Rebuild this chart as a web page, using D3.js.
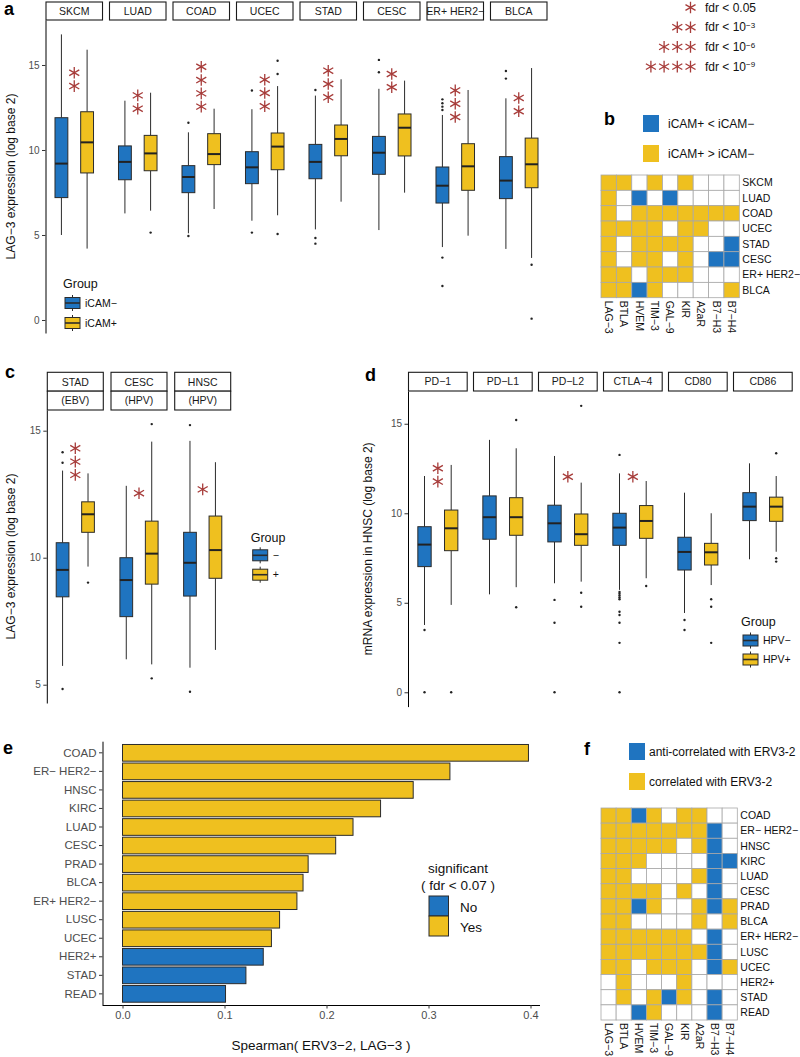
<!DOCTYPE html>
<html><head><meta charset="utf-8">
<script src="https://cdn.jsdelivr.net/npm/d3@7"></script>
<style>
body{margin:0;background:#fff}
text{font-family:"Liberation Sans",Arial,Helvetica,sans-serif}
</style>
</head><body>
<svg id="chart" width="800" height="1057"></svg>
<script>
// ---------------- DATA ----------------
// Panel a: LAG-3 expression by iCAM group. stats = [lowWhisker, q1, median, q3, highWhisker]
const aFacets = ["SKCM","LUAD","COAD","UCEC","STAD","CESC","ER+ HER2−","BLCA"];
const aGroups = ["iCAM−","iCAM+"];
const aNegStats = [[5.0,7.2,9.2,11.9,16.8],[6.27,8.25,9.3,10.24,12.9],[5.1,7.49,8.41,9.08,11.04],[5.84,8.02,8.98,9.9,12.4],
  [5.33,8.31,9.3,10.33,13.2],[5.29,8.57,9.84,10.8,13.6],[4.29,6.88,7.9,9.0,12.06],[4.18,7.14,8.2,9.61,13.04]];
const aPosStats = [[4.2,8.65,10.45,12.25,15.9],[6.43,8.78,9.8,10.86,13.37],[6.53,9.14,9.76,10.96,12.43],[6.16,8.84,10.2,11.0,13.76],
  [6.96,9.66,10.65,11.47,14.16],[7.49,9.65,11.31,12.12,14.08],[4.96,7.63,9.04,10.37,13.53],[3.65,7.78,9.16,10.7,14.82]];
const aNegOut = [[],[],[11.6,4.94],[13.5,5.14],[13.53,4.82,4.49],[14.57,15.3],[12.35,12.55,12.75,12.98,3.67,2.0],[14.65,14.2]];
const aPosOut = [[],[5.14],[],[14.47,15.25,5.06],[],[],[],[3.25,0.08]];
const aStars = [2,2,4,3,3,2,3,2];
const aStarBase = [13.76,12.43,12.55,12.57,13.1,13.69,11.94,12.28];
const aTicks = [0,5,10,15];

// Significance legend
const sigStars = [1,2,3,4];
const sigBase = ["fdr < 0.05","fdr < 10","fdr < 10","fdr < 10"];
const sigExp = ["","−3","−6","−9"];

// Panel b: 1 = iCAM+ > iCAM−, -1 = iCAM+ < iCAM−, 0 = n.s.
const bRows = ["SKCM","LUAD","COAD","UCEC","STAD","CESC","ER+ HER2−","BLCA"];
const bCols = ["LAG−3","BTLA","HVEM","TIM−3","GAL−9","KIR","A2aR","B7−H3","B7−H4"];
const bMatrix = [
  [1,1,0,1,0,1,0,0,0],
  [1,0,-1,0,-1,0,0,0,0],
  [1,0,1,1,1,1,1,1,1],
  [1,1,1,1,0,1,1,0,0],
  [1,0,1,1,1,1,0,0,-1],
  [1,0,1,1,0,1,0,-1,-1],
  [1,1,0,1,1,1,0,0,0],
  [1,1,-1,1,0,0,0,0,1]];
const bLegend = ["iCAM+ < iCAM−","iCAM+ > iCAM−"];

// Panel c
const cFacets = ["STAD","CESC","HNSC"];
const cSub = ["(EBV)","(HPV)","(HPV)"];
const cGroups = ["−","+"];
const cNegStats = [[5.74,8.46,9.52,10.59,13.43],[6.0,7.68,9.12,10.0,12.83],[5.67,8.49,9.8,11.0,14.6]];
const cPosStats = [[9.65,11.0,11.71,12.2,13.32],[5.8,8.96,10.16,11.44,14.57],[6.37,9.19,10.3,11.64,13.76]];
const cNegOut = [[14.15,13.74,4.83],[],[15.22,4.72]];
const cPosOut = [[9.02],[15.26,5.25],[]];
const cStars = [3,1,1];
const cStarBase = [13.26,12.54,12.69];
const cTicks = [5,10,15];

// Panel d
const dFacets = ["PD−1","PD−L1","PD−L2","CTLA−4","CD80","CD86"];
const dGroups = ["HPV−","HPV+"];
const dNegStats = [[3.76,7.02,8.25,9.25,12.08],[5.47,8.55,9.78,10.97,14.1],[6.09,8.4,9.44,10.45,13.2],
  [5.72,8.21,9.2,10.0,12.23],[4.43,6.83,7.84,8.66,11.15],[7.43,9.59,10.37,11.15,12.79]];
const dPosStats = [[4.88,7.91,9.16,10.18,12.7],[5.87,8.77,9.78,10.87,13.63],[6.18,8.21,8.83,9.96,11.71],
  [6.37,8.6,9.57,10.43,11.8],[5.99,7.11,7.82,8.32,10.0],[7.85,9.55,10.37,10.9,12.08]];
const dNegOut = [[3.48,0],[],[5.16,3.88,0],[13.26,5.6,5.5,5.4,5.3,5.2,4.5,4.32,3.88,2.76,0],[4.04,3.48],[]];
const dPosOut = [[0],[15.21,4.75],[16.0,5.56,4.78],[5.94],[5.2,4.78,2.76],[13.35,7.49,7.3]];
const dStars = [2,0,1,1,0,0];
const dStarBase = [11.77,0,12.04,12.04,0,0];
const dTicks = [0,5,10,15];

// Panel e
const eCats = ["COAD","ER− HER2−","HNSC","KIRC","LUAD","CESC","PRAD","BLCA","ER+ HER2−","LUSC","UCEC","HER2+","STAD","READ"];
const eVals = [0.398,0.321,0.285,0.253,0.226,0.209,0.182,0.177,0.171,0.154,0.146,0.138,0.121,0.101];
const eSig = ["Yes","Yes","Yes","Yes","Yes","Yes","Yes","Yes","Yes","Yes","Yes","No","No","No"];
const eTicks = [0,0.1,0.2,0.3,0.4];
const eLegend = ["No","Yes"];

// Panel f: 1 = correlated, -1 = anti-correlated, 0 = n.s.
const fRows = ["COAD","ER− HER2−","HNSC","KIRC","LUAD","CESC","PRAD","BLCA","ER+ HER2−","LUSC","UCEC","HER2+","STAD","READ"];
const fCols = ["LAG−3","BTLA","HVEM","TIM−3","GAL−9","KIR","A2aR","B7−H3","B7−H4"];
const fMatrix = [
  [1,1,-1,1,0,1,1,0,0],
  [1,1,1,1,1,1,1,-1,0],
  [1,1,1,1,1,0,1,-1,0],
  [1,1,1,0,0,0,0,-1,-1],
  [1,1,0,0,0,0,1,-1,0],
  [1,1,1,1,0,1,0,-1,0],
  [1,1,-1,1,0,0,1,-1,1],
  [1,1,0,0,0,0,1,0,1],
  [1,1,1,1,1,1,0,-1,0],
  [1,1,1,1,1,1,1,-1,0],
  [1,1,0,1,1,1,0,-1,1],
  [0,1,0,0,0,1,0,0,0],
  [0,1,0,1,-1,1,0,-1,0],
  [0,0,-1,1,0,0,0,-1,0]];
const fLegend = ["anti-correlated with ERV3-2","correlated with ERV3-2"];

// ---------------- STYLE ----------------
const BLUE = "#1f74c0", YEL = "#efc01f", STARC = "#a73c3a", EDGE = "#2b2b2b", TXT = "#4d4d4d";
const svg = d3.select("#chart");
const colorOf = v => v === 1 ? YEL : (v === -1 ? BLUE : "#ffffff");

function drawStar(g, cx, cy, r) {
  const c = Math.cos(Math.PI/6)*r, s = Math.sin(Math.PI/6)*r;
  g.append("path")
    .attr("d", `M${cx},${cy-r}L${cx},${cy+r}M${cx-c},${cy-s}L${cx+c},${cy+s}M${cx-c},${cy+s}L${cx+c},${cy-s}`)
    .attr("stroke", STARC).attr("stroke-width", 1.3).attr("fill", "none");
}

function boxKey(g, x, yc, col) {
  g.append("line").attr("x1", x+7.5).attr("x2", x+7.5).attr("y1", yc-8).attr("y2", yc+8)
    .attr("stroke", EDGE).attr("stroke-width", 1);
  g.append("rect").attr("x", x).attr("y", yc-5.5).attr("width", 15).attr("height", 11)
    .attr("fill", col).attr("stroke", EDGE).attr("stroke-width", 1);
  g.append("line").attr("x1", x).attr("x2", x+15).attr("y1", yc).attr("y2", yc)
    .attr("stroke", EDGE).attr("stroke-width", 1.6);
}

function styleAxis(ax) {
  ax.attr("font-family", null).attr("font-size", null);
  ax.select(".domain").attr("stroke", "#000").attr("stroke-width", 1);
  ax.selectAll(".tick line").attr("stroke", "#333");
  ax.selectAll(".tick text").attr("fill", TXT).style("font-size", "10px");
}

function boxPanel(o) {
  const g = svg.append("g");
  const y = d3.scaleLinear().domain(o.ydom).range([o.bottom, o.top]);
  const fx = d3.scaleBand().domain(o.facets).range([o.x0, o.x1]).paddingInner(o.pad);
  const gx = d3.scalePoint().domain(o.groups).range([0, fx.bandwidth()]).padding(0.6);
  const bw = gx.step() * 0.5;
  o.facets.forEach((f, i) => {
    const fxp = fx(f);
    const rows = o.sub ? [f, o.sub[i]] : [f];
    rows.forEach((t, k) => {
      g.append("rect").attr("x", fxp).attr("y", o.stripTop + k*o.stripH)
        .attr("width", fx.bandwidth()).attr("height", o.stripH)
        .attr("fill", "#fff").attr("stroke", "#1a1a1a").attr("stroke-width", 1.1);
      g.append("text").attr("x", fxp + fx.bandwidth()/2).attr("y", o.stripTop + k*o.stripH + o.stripH/2)
        .attr("dy", "0.36em").attr("text-anchor", "middle").attr("font-size", 10.5).attr("fill", "#1a1a1a").text(t);
    });
    const sets = [[o.neg[i], o.negOut[i], BLUE, o.groups[0]], [o.pos[i], o.posOut[i], YEL, o.groups[1]]];
    sets.forEach(([s, outs, col, grp]) => {
      const cx = fxp + gx(grp);
      g.append("line").attr("x1", cx).attr("x2", cx).attr("y1", y(s[0])).attr("y2", y(s[1]))
        .attr("stroke", EDGE).attr("stroke-width", 1);
      g.append("line").attr("x1", cx).attr("x2", cx).attr("y1", y(s[3])).attr("y2", y(s[4]))
        .attr("stroke", EDGE).attr("stroke-width", 1);
      g.append("rect").attr("x", cx - bw/2).attr("y", y(s[3])).attr("width", bw).attr("height", y(s[1]) - y(s[3]))
        .attr("fill", col).attr("stroke", EDGE).attr("stroke-width", 1);
      g.append("line").attr("x1", cx - bw/2).attr("x2", cx + bw/2).attr("y1", y(s[2])).attr("y2", y(s[2]))
        .attr("stroke", "#222").attr("stroke-width", 2);
      outs.forEach(v => g.append("circle").attr("cx", cx).attr("cy", y(v)).attr("r", 1.2).attr("fill", "#222"));
    });
    for (let k = 0; k < o.stars[i]; k++) drawStar(g, fxp + fx.bandwidth()/2, y(o.starBase[i]) - k*13.3, 5.8);
  });
  const ax = g.append("g").attr("transform", `translate(${o.x0 - 0.5},0)`)
    .call(d3.axisLeft(y).tickValues(o.ticks).tickSize(3.5).tickSizeOuter(0).tickPadding(2.5));
  styleAxis(ax);
  g.append("text").attr("transform", `translate(${o.titleX},${(o.top + o.bottom)/2}) rotate(-90)`)
    .attr("text-anchor", "middle").attr("dy", "0.35em").attr("font-size", 12).attr("fill", "#111").text(o.title);
  // legend
  const lg = g.append("g");
  lg.append("text").attr("x", o.legX).attr("y", o.legY).attr("dy", "0.35em").attr("font-size", 12.5).attr("fill", "#111").text("Group");
  o.groups.forEach((grp, k) => {
    const yc = o.legY + o.legFirst + k*o.legStep;
    boxKey(lg, o.legX + 2, yc, k === 0 ? BLUE : YEL);
    lg.append("text").attr("x", o.legX + 22).attr("y", yc).attr("dy", "0.35em").attr("font-size", 10.5).attr("fill", "#111").text(grp);
  });
}

function heatmap(o) {
  const g = svg.append("g");
  const x = d3.scaleBand().domain(o.cols).range([o.x0, o.x1]);
  const y = d3.scaleBand().domain(o.rows).range([o.y0, o.y1]);
  o.rows.forEach((r, i) => o.cols.forEach((c, j) => {
    g.append("rect").attr("x", x(c)).attr("y", y(r)).attr("width", x.bandwidth()).attr("height", y.bandwidth())
      .attr("fill", colorOf(o.mat[i][j])).attr("stroke", "#a8a8a8").attr("stroke-width", 0.8);
  }));
  o.rows.forEach(r => g.append("text").attr("x", o.x1 + 3).attr("y", y(r) + y.bandwidth()/2).attr("dy", "0.35em")
    .attr("font-size", 10.5).attr("fill", "#111").text(r));
  o.cols.forEach(c => g.append("text")
    .attr("transform", `translate(${x(c) + x.bandwidth()/2},${o.y1 + 3}) rotate(90)`)
    .attr("dy", "0.35em").attr("font-size", 10.5).attr("fill", "#111").text(c));
  o.legend.forEach((t, k) => {
    const yk = o.legY + k*o.legStep;
    g.append("rect").attr("x", o.legX).attr("y", yk).attr("width", 16).attr("height", 17).attr("fill", k === 0 ? BLUE : YEL);
    g.append("text").attr("x", o.legX + o.legGap).attr("y", yk + 8.5).attr("dy", "0.35em").attr("font-size", 12).attr("fill", "#111").text(t);
  });
}

function panelLabel(t, x, y) {
  svg.append("text").attr("x", x).attr("y", y).attr("font-size", 18).attr("font-weight", "bold").attr("fill", "#000").text(t);
}

// ---------------- PANEL a ----------------
boxPanel({facets: aFacets, groups: aGroups, neg: aNegStats, pos: aPosStats, negOut: aNegOut, posOut: aPosOut,
  stars: aStars, starBase: aStarBase, x0: 46, x1: 547, pad: 0.11, top: 20, bottom: 333, ydom: [-0.765, 17.647],
  ticks: aTicks, stripTop: 2, stripH: 18, titleX: 10.5, title: "LAG−3 expression (log base 2)",
  legX: 63, legY: 284, legFirst: 19, legStep: 20});
panelLabel("a", 4, 15);

// significance legend
const sg = svg.append("g");
sigStars.forEach((n, k) => {
  const yc = 7.5 + k*19.7;
  for (let s = 0; s < n; s++) drawStar(sg, 690.5 - s*13.2, yc, 5.8);
  const t = sg.append("text").attr("x", 705).attr("y", yc).attr("dy", "0.35em").attr("font-size", 12).attr("fill", "#111").text(sigBase[k]);
  if (sigExp[k]) t.append("tspan").attr("dy", "-0.45em").attr("font-size", 8).text(sigExp[k]);
});

// ---------------- PANEL b ----------------
heatmap({rows: bRows, cols: bCols, mat: bMatrix, x0: 601, x1: 739.3, y0: 175, y1: 297.7,
  legend: bLegend, legX: 643, legY: 115, legStep: 30, legGap: 25});
panelLabel("b", 604, 125);

// ---------------- PANEL c ----------------
boxPanel({facets: cFacets, sub: cSub, groups: cGroups, neg: cNegStats, pos: cPosStats, negOut: cNegOut, posOut: cPosOut,
  stars: cStars, starBase: cStarBase, x0: 47.3, x1: 230.7, pad: 0.121, top: 410, bottom: 703, ydom: [4.28, 15.815],
  ticks: cTicks, stripTop: 372.3, stripH: 18.85, titleX: 10.5, title: "LAG−3 expression (log base 2)",
  legX: 250.7, legY: 537.7, legFirst: 17.6, legStep: 19.4});
panelLabel("c", 5, 378);

// ---------------- PANEL d ----------------
boxPanel({facets: dFacets, groups: dGroups, neg: dNegStats, pos: dPosStats, negOut: dNegOut, posOut: dPosOut,
  stars: dStars, starBase: dStarBase, x0: 408.5, x1: 792.2, pad: 0.097, top: 391, bottom: 706.6, ydom: [-0.8, 16.83],
  ticks: dTicks, stripTop: 372.3, stripH: 18.7, titleX: 368, title: "mRNA expression in HNSC (log base 2)",
  legX: 741, legY: 621.7, legFirst: 18.8, legStep: 19});
panelLabel("d", 365, 381);

// ---------------- PANEL e ----------------
(function(){
  const g = svg.append("g");
  const x = d3.scaleLinear().domain([0, 0.4]).range([122.5, 530.5]);
  const y = d3.scaleBand().domain(eCats).range([741.7, 1005]).paddingInner(0.1).paddingOuter(0.15);
  eCats.forEach((c, i) => {
    g.append("rect").attr("x", x(0)).attr("y", y(c)).attr("width", x(eVals[i]) - x(0)).attr("height", y.bandwidth())
      .attr("fill", eSig[i] === "Yes" ? YEL : BLUE).attr("stroke", EDGE).attr("stroke-width", 1);
  });
  const ay = g.append("g").attr("transform", "translate(102.5,0)")
    .call(d3.axisLeft(y).tickSize(3.5).tickSizeOuter(0).tickPadding(2.5));
  styleAxis(ay);
  ay.selectAll(".tick text").style("font-size", "11.5px");
  ay.select(".domain").attr("d", "M0.5,741.7V1005");
  const ax = g.append("g").attr("transform", "translate(0,1005)")
    .call(d3.axisBottom(x).tickValues(eTicks).tickFormat(d3.format(".1f")).tickSize(3.5).tickSizeOuter(0).tickPadding(2.5));
  styleAxis(ax);
  ax.selectAll(".tick text").style("font-size", "11px");
  ax.select(".domain").attr("d", "M102.5,0.5H540");
  g.append("text").attr("x", 321).attr("y", 1045).attr("dy", "0.35em").attr("text-anchor", "middle")
    .attr("font-size", 13.5).attr("fill", "#111").text("Spearman( ERV3−2, LAG−3 )");
  // legend
  g.append("text").attr("x", 458).attr("y", 868.3).attr("dy", "0.35em").attr("text-anchor", "middle")
    .attr("font-size", 13.5).attr("fill", "#111").text("significant");
  g.append("text").attr("x", 458).attr("y", 885).attr("dy", "0.35em").attr("text-anchor", "middle")
    .attr("font-size", 13.5).attr("fill", "#111").text("( fdr < 0.07 )");
  eLegend.forEach((t, k) => {
    const yk = 896 + k*20;
    g.append("rect").attr("x", 429).attr("y", yk).attr("width", 19.5).attr("height", 20)
      .attr("fill", t === "Yes" ? YEL : BLUE).attr("stroke", EDGE).attr("stroke-width", 1);
    g.append("text").attr("x", 460).attr("y", yk + 11).attr("dy", "0.35em").attr("font-size", 13.5).attr("fill", "#111").text(t);
  });
})();
panelLabel("e", 3, 754);

// ---------------- PANEL f ----------------
heatmap({rows: fRows, cols: fCols, mat: fMatrix, x0: 601, x1: 737.3, y0: 808, y1: 1020,
  legend: fLegend, legX: 629, legY: 743, legStep: 30, legGap: 20});
panelLabel("f", 584, 755);
</script>
</body></html>
